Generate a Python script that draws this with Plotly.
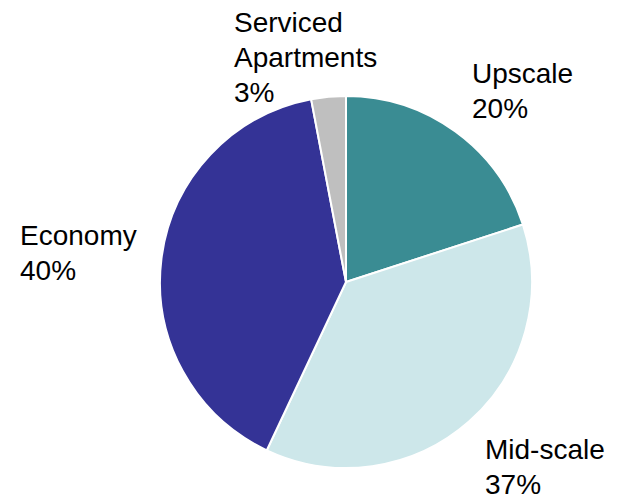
import plotly.graph_objects as go

# Hotel room supply by segment (share, %)
segments = ["Upscale", "Mid-scale", "Economy", "Serviced Apartments"]
shares = [20, 37, 40, 3]
colors = ["#3A8C93", "#CDE7EA", "#343396", "#BFBFBF"]

# Outside label lines and their top-left anchor (pixels from top-left)
label_lines = [["Upscale", "20%"], ["Mid-scale", "37%"], ["Economy", "40%"],
               ["Serviced", "Apartments", "3%"]]
label_x = [471, 484, 19, 233]
label_y = [57, 433, 219, 6]
line_step = 35

W, H = 619, 495

fig = go.Figure(
    go.Pie(
        labels=segments,
        values=shares,
        sort=False,
        direction="clockwise",
        rotation=0,
        marker=dict(colors=colors, line=dict(color="white", width=2)),
        textinfo="none",
        hoverinfo="label+percent",
        showlegend=False,
        domain=dict(x=[160 / W, 532 / W], y=[1 - 468 / H, 1 - 96 / H]),
    )
)

for lines, px, py in zip(label_lines, label_x, label_y):
    for i, line in enumerate(lines):
        fig.add_annotation(
            text=line,
            x=px / W,
            y=1 - (py + i * line_step) / H,
            xref="paper",
            yref="paper",
            xanchor="left",
            yanchor="top",
            align="left",
            showarrow=False,
            borderpad=0,
            font=dict(family="Liberation Sans, Arial, sans-serif", size=28, color="black"),
        )

fig.update_layout(
    width=W,
    height=H,
    margin=dict(l=0, r=0, t=0, b=0),
    paper_bgcolor="white",
    plot_bgcolor="white",
)

fig.write_html("out.html")
